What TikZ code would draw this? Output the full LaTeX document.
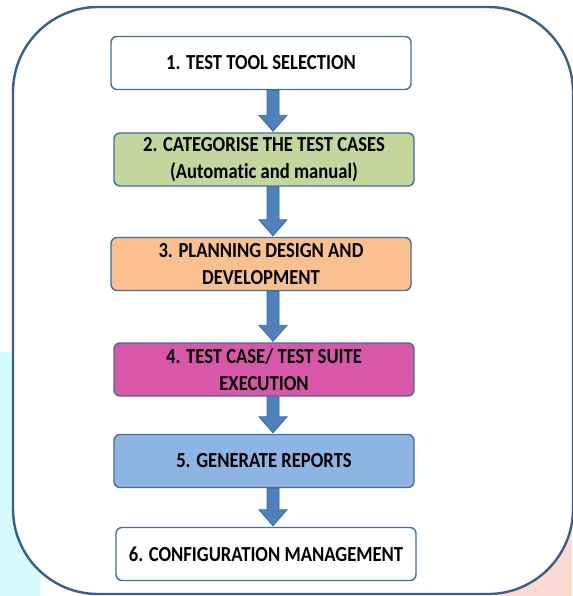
\documentclass[tikz,border=0pt]{standalone}
\usepackage{fontspec}
\setmainfont{Carlito}[FakeStretch=0.87, Ligatures=NoCommon]
\usetikzlibrary{calc}
\definecolor{frameblue}{HTML}{3A5F8F}
\definecolor{boxline}{HTML}{41719C}
\definecolor{arrowfill}{HTML}{4F81BD}
\definecolor{arrowline}{HTML}{3B6A9E}
\definecolor{fgreen}{HTML}{C3D69B}
\definecolor{forange}{HTML}{FAC090}
\definecolor{fmagenta}{HTML}{D957A8}
\definecolor{fblue}{HTML}{8EB4E3}
\definecolor{bgcyan}{HTML}{D6FBFC}
\definecolor{bgpink}{HTML}{FDDAD4}
\tikzset{
  stepbox/.style={draw=boxline, line width=1.4pt, rounded corners=6pt,
    minimum width=300pt, minimum height=53pt, inner sep=0pt,
    align=center, font=\bfseries\fontsize{21.4}{27}\selectfont},
  blockarrow/.style={fill=arrowfill, draw=arrowline, line width=0.8pt}
}
\newcommand{\blockarr}[3]{% from node, to node, x offset
  \path let \p1=($(#1.south)+(#3,0)$), \p2=($(#2.north)+(#3,0)$) in
    [blockarrow] (\x1-6pt,\y1) -- (\x1+6pt,\y1) -- (\x1+6pt,\y2+17pt)
    -- (\x1+14pt,\y2+17pt) -- (\x1,\y2+1pt) -- (\x1-14pt,\y2+17pt)
    -- (\x1-6pt,\y2+17pt) -- cycle;
}
\begin{document}
\begin{tikzpicture}[x=1pt,y=-1pt]
\useasboundingbox (0,0) rectangle (572,596);
\fill[bgcyan] (0,352) rectangle (16,596);
\fill[bgcyan] (0,520) rectangle (40,596);
\fill[bgpink] (500,520) rectangle (572,596);
\draw[frameblue, line width=2.4pt, fill=white, rounded corners=85pt] (13,7) rectangle (573,594);
\node[stepbox, fill=white] (b1) at (261,63) {1. TEST TOOL SELECTION};
\node[stepbox, fill=fgreen] (b2) at (264,159.5) {2. CATEGORISE THE TEST CASES\\(Automatic and manual)};
\node[stepbox, fill=forange] (b3) at (261,264) {3. PLANNING DESIGN AND\\DEVELOPMENT};
\node[stepbox, fill=fmagenta] (b4) at (264,369.5) {4. TEST CASE/ TEST SUITE\\EXECUTION};
\node[stepbox, fill=fblue] (b5) at (264,461) {5. GENERATE REPORTS};
\node[stepbox, fill=white] (b6) at (266,554) {6. CONFIGURATION MANAGEMENT};
\blockarr{b1}{b2}{12pt}
\blockarr{b2}{b3}{9pt}
\blockarr{b3}{b4}{12pt}
\blockarr{b4}{b5}{9pt}
\blockarr{b5}{b6}{9pt}
\end{tikzpicture}
\end{document}
